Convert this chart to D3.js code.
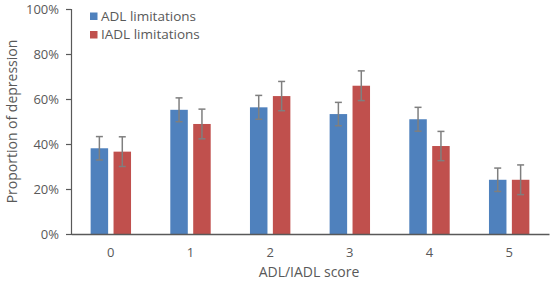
<!DOCTYPE html>
<html>
<head>
<meta charset="utf-8">
<script src="https://cdn.jsdelivr.net/npm/d3@7"></script>
<style>
  body { margin: 0; background: #fff; }
  text { font-family: "Open Sans", sans-serif; }
</style>
</head>
<body>
<div id="chart"></div>
<script>
// ADL/IADL score categories
const scores = ["0", "1", "2", "3", "4", "5"];
const seriesNames = ["ADL limitations", "IADL limitations"];
// proportion of depression (%) and error half-widths
const adlValues = [38.1, 55.2, 56.3, 53.3, 51.0, 24.1];
const adlErrors = [5.2, 5.3, 5.3, 5.2, 5.3, 5.2];
const iadlValues = [36.6, 48.9, 61.3, 65.9, 39.1, 24.1];
const iadlErrors = [6.6, 6.6, 6.5, 6.6, 6.5, 6.6];
const yTicks = [0, 20, 40, 60, 80, 100];

const colors = ["#4f81bd", "#c0504d"];

const width = 551, height = 286;
const margin = { top: 9, right: 2, bottom: 52, left: 71 };
const innerW = width - margin.left - margin.right,
    innerH = height - margin.top - margin.bottom;

const svg = d3.select("#chart")
    .append("svg")
    .attr("width", width)
    .attr("height", height);

const g = svg.append("g")
    .attr("transform", `translate(${margin.left},${margin.top})`);

const x0 = d3.scaleBand()
    .domain(scores)
    .range([0, innerW]);

const groupW = 40.4;
const x1 = d3.scaleBand()
    .domain(seriesNames)
    .range([(x0.bandwidth() - groupW) / 2, (x0.bandwidth() + groupW) / 2])
    .paddingInner(0.236);

const y = d3.scaleLinear()
    .domain([0, 100])
    .range([innerH, 0]);

// rows: one per category
const rows = scores.map((s, i) => ({
    score: s,
    vals: [
        { name: seriesNames[0], v: adlValues[i], e: adlErrors[i], c: colors[0] },
        { name: seriesNames[1], v: iadlValues[i], e: iadlErrors[i], c: colors[1] }
    ]
}));

const groups = g.selectAll(".grp")
    .data(rows)
    .join("g")
    .attr("class", "grp")
    .attr("transform", d => `translate(${x0(d.score)},0)`);

groups.selectAll("rect")
    .data(d => d.vals)
    .join("rect")
    .attr("x", d => x1(d.name))
    .attr("width", x1.bandwidth())
    .attr("y", d => y(d.v))
    .attr("height", d => innerH - y(d.v))
    .attr("fill", d => d.c);

// error bars
const errStroke = "#7f7f7f";
const capW = 3.5;
const eb = groups.selectAll(".err")
    .data(d => d.vals)
    .join("g")
    .attr("class", "err")
    .attr("stroke", errStroke)
    .attr("stroke-width", 1.5);

eb.append("line")
    .attr("x1", d => x1(d.name) + x1.bandwidth() / 2)
    .attr("x2", d => x1(d.name) + x1.bandwidth() / 2)
    .attr("y1", d => y(d.v + d.e))
    .attr("y2", d => y(d.v - d.e));
eb.append("line")
    .attr("x1", d => x1(d.name) + x1.bandwidth() / 2 - capW)
    .attr("x2", d => x1(d.name) + x1.bandwidth() / 2 + capW)
    .attr("y1", d => y(d.v + d.e))
    .attr("y2", d => y(d.v + d.e));
eb.append("line")
    .attr("x1", d => x1(d.name) + x1.bandwidth() / 2 - capW)
    .attr("x2", d => x1(d.name) + x1.bandwidth() / 2 + capW)
    .attr("y1", d => y(d.v - d.e))
    .attr("y2", d => y(d.v - d.e));

// y axis
const yAxis = g.append("g")
    .call(d3.axisLeft(y).tickValues(yTicks).tickFormat(d => d + "%").tickSize(5).tickSizeOuter(5));
yAxis.select(".domain").attr("stroke", "#595959").attr("stroke-width", 1.2);
yAxis.selectAll(".tick line").attr("stroke", "#595959").attr("stroke-width", 1.2);
yAxis.selectAll(".tick text")
    .attr("x", -12)
    .attr("fill", "#595959")
    .style("font-size", "13px");

// x axis
const xAxis = g.append("g")
    .attr("transform", `translate(0,${innerH})`)
    .call(d3.axisBottom(x0).tickSize(0).tickSizeOuter(0));
xAxis.select(".domain").attr("stroke", "#595959").attr("stroke-width", 1.5);
xAxis.selectAll(".tick text")
    .attr("y", 14)
    .attr("fill", "#595959")
    .style("font-size", "13px");

// axis titles
svg.append("text")
    .attr("transform", `translate(17,${margin.top + innerH / 2}) rotate(-90)`)
    .attr("text-anchor", "middle")
    .attr("fill", "#595959")
    .style("font-size", "14px")
    .text("Proportion of depression");

svg.append("text")
    .attr("x", 309)
    .attr("y", 277)
    .attr("text-anchor", "middle")
    .attr("fill", "#595959")
    .style("font-size", "14px")
    .text("ADL/IADL score");

// legend
const legend = svg.append("g")
    .attr("transform", "translate(90,12)");
const li = legend.selectAll("g")
    .data(seriesNames)
    .join("g")
    .attr("transform", (d, i) => `translate(0,${i * 18.5})`);
li.append("rect")
    .attr("width", 7.5)
    .attr("height", 7.5)
    .attr("y", 0.5)
    .attr("fill", (d, i) => colors[i]);
li.append("text")
    .attr("x", 11)
    .attr("y", 8.5)
    .attr("fill", "#595959")
    .style("font-size", "13.5px")
    .text(d => d);
</script>
</body>
</html>
